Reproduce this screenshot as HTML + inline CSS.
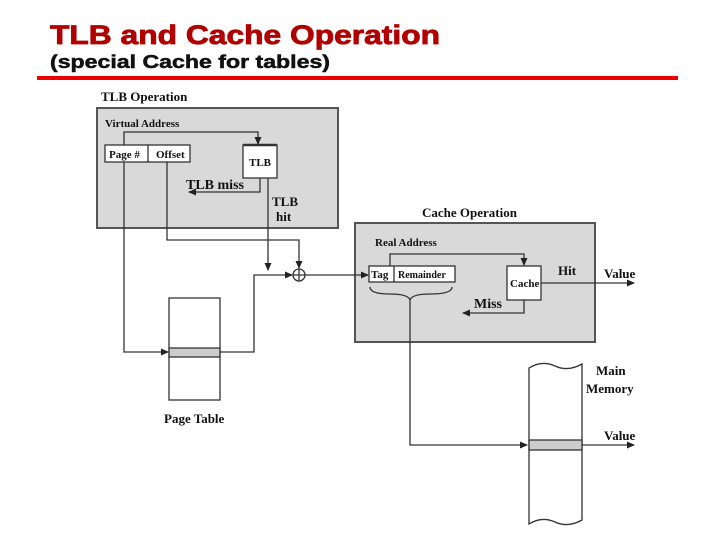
<!DOCTYPE html><html><head><style>body{margin:0;background:#fff}svg{display:block}</style></head><body>
<svg width="720" height="540" viewBox="0 0 720 540" xmlns="http://www.w3.org/2000/svg" font-family="Liberation Serif, serif" font-weight="bold">
<defs><marker id="a" markerWidth="8" markerHeight="8" refX="7" refY="4" orient="auto" markerUnits="userSpaceOnUse"><path d="M0,0.5 L8,4 L0,7.5 z" fill="#222"/></marker></defs>
<text x="50" y="44" font-family="Liberation Sans, sans-serif" font-size="27" fill="#b00000" stroke="#b00000" stroke-width="0.8" textLength="390" lengthAdjust="spacingAndGlyphs">TLB and Cache Operation</text>
<text x="50" y="68" font-family="Liberation Sans, sans-serif" font-size="18" fill="#111" stroke="#111" stroke-width="0.5" textLength="280" lengthAdjust="spacingAndGlyphs">(special Cache for tables)</text>
<rect x="37" y="76" width="641" height="4" fill="#ee0000"/>
<g stroke="#333" stroke-width="1.3" fill="none">
<rect x="97" y="108" width="241" height="120" fill="#d9d9d9" stroke="#555" stroke-width="2"/>
<rect x="355" y="223" width="240" height="119" fill="#d9d9d9" stroke="#555" stroke-width="2"/>
<rect x="105" y="145" width="85" height="17" fill="#fff"/><line x1="148" y1="145" x2="148" y2="162"/>
<rect x="243" y="145" width="34" height="33" fill="#fff"/><line x1="243" y1="145" x2="277" y2="145" stroke-width="2.5"/>
<path d="M124,145 V132 H258 V144" marker-end="url(#a)"/>
<path d="M260,178 V192 H189" marker-end="url(#a)"/>
<path d="M268,178 V270" marker-end="url(#a)"/>
<path d="M167,162 V240 H299 V268" marker-end="url(#a)"/>
<circle cx="299" cy="275" r="6" fill="#fff"/><path d="M293,275 H305 M299,269 V281"/>
<path d="M220,352 H254 V275 H292" marker-end="url(#a)"/>
<path d="M305,275 H368" marker-end="url(#a)"/>
<path d="M124,162 V352 H168" marker-end="url(#a)"/>
<rect x="169" y="298" width="51" height="102" fill="#fff"/><rect x="169" y="348" width="51" height="9" fill="#ccc"/>
<rect x="369" y="266" width="86" height="16" fill="#fff"/><line x1="394" y1="266" x2="394" y2="282"/>
<path d="M390,266 V254 H524 V265" marker-end="url(#a)"/>
<rect x="507" y="266" width="34" height="34" fill="#fff"/>
<path d="M541,283 H634" marker-end="url(#a)"/>
<path d="M524,300 V313 H463" marker-end="url(#a)"/>
<path d="M370,287 Q370,294 390,294 Q408,294 410,300 Q412,294 430,294 Q452,294 452,287"/>
<path d="M410,300 V445 H527" marker-end="url(#a)"/>
<path d="M529,368 Q542,360 555,366 Q568,372 582,364 V520 Q568,528 555,522 Q542,516 529,524 Z" fill="#fff"/>
<rect x="529" y="440" width="53" height="10" fill="#ccc"/>
<path d="M582,445 H634" marker-end="url(#a)"/>
</g>
<g fill="#111" font-size="12">
<text x="101" y="101" font-size="13">TLB Operation</text>
<text x="105" y="127" font-size="11">Virtual Address</text>
<text x="109" y="158" font-size="11">Page #</text>
<text x="156" y="158" font-size="11">Offset</text>
<text x="249" y="166" font-size="11">TLB</text>
<text x="186" y="189" font-size="14">TLB miss</text>
<text x="272" y="206" font-size="13">TLB</text>
<text x="276" y="221" font-size="13">hit</text>
<text x="422" y="217" font-size="13">Cache Operation</text>
<text x="375" y="246" font-size="11">Real Address</text>
<text x="371" y="278" font-size="11">Tag</text>
<text x="398" y="278" font-size="10">Remainder</text>
<text x="510" y="287" font-size="11">Cache</text>
<text x="558" y="275" font-size="13">Hit</text>
<text x="604" y="278" font-size="13">Value</text>
<text x="474" y="308" font-size="14">Miss</text>
<text x="164" y="423" font-size="13">Page Table</text>
<text x="596" y="375" font-size="13">Main</text>
<text x="586" y="393" font-size="13">Memory</text>
<text x="604" y="440" font-size="13">Value</text>
</g>
</svg></body></html>
